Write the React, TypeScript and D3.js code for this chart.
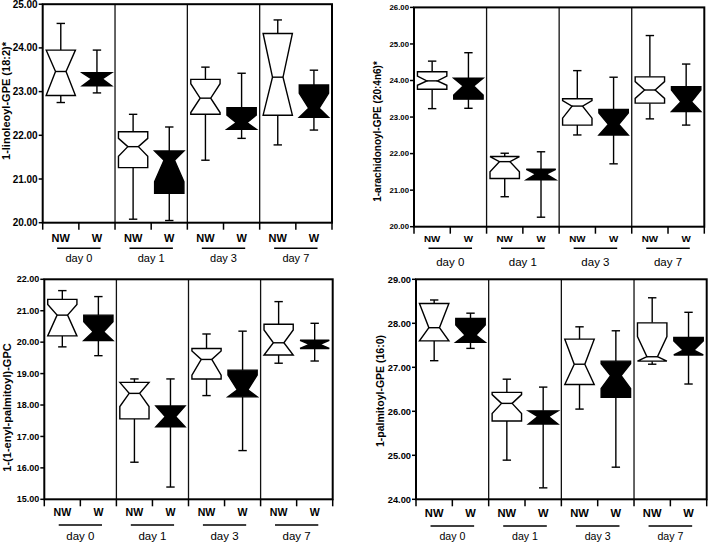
import React from "react";
import * as d3 from "d3";

const days = ["day 0", "day 1", "day 3", "day 7"];
const groupLabels = ["NW", "W"];

// each row: [whiskerLow, q1, median, q3, whiskerHigh, notchLow, notchHigh]
// order: day0 NW, day0 W, day1 NW, day1 W, day3 NW, day3 W, day7 NW, day7 W
const p1Title = "1-linoleoyl-GPE (18:2)*";
const p1Ticks = [20, 21, 22, 23, 24, 25];
const p1Boxes = [
  [22.75, 22.91, 23.46, 23.95, 24.56, 22.8, 24.1],
  [22.97, 23.13, 23.29, 23.43, 23.95, 23.0, 23.5],
  [20.08, 21.26, 21.74, 22.08, 22.48, 21.52, 21.93],
  [20.05, 20.67, 21.43, 21.64, 22.19, 20.94, 21.92],
  [21.43, 22.48, 22.85, 23.28, 23.56, 22.52, 23.18],
  [21.93, 22.14, 22.29, 22.63, 23.42, 22.1, 22.46],
  [21.78, 22.46, 23.33, 24.33, 24.64, 22.3, 24.4],
  [22.12, 22.41, 22.62, 23.15, 23.49, 22.28, 22.96],
];

const p2Title = "1-arachidonoyl-GPE (20:4n6)*";
const p2Ticks = [20, 21, 22, 23, 24, 25, 26];
const p2Boxes = [
  [23.23, 23.76, 23.99, 24.24, 24.53, 23.87, 24.12],
  [23.24, 23.49, 23.85, 24.06, 24.76, 23.6, 24.1],
  [20.82, 21.32, 21.78, 21.92, 22.01, 21.5, 22.06],
  [20.26, 21.28, 21.44, 21.57, 22.05, 21.2, 21.7],
  [22.51, 22.78, 23.3, 23.5, 24.27, 22.97, 23.45],
  [21.72, 22.51, 22.8, 23.21, 24.09, 22.47, 23.11],
  [22.95, 23.38, 23.74, 24.1, 25.23, 23.51, 23.97],
  [22.78, 23.15, 23.42, 23.83, 24.45, 23.1, 23.74],
];

const p3Title = "1-(1-enyl-palmitoyl)-GPC";
const p3Ticks = [15, 16, 17, 18, 19, 20, 21, 22];
const p3Boxes = [
  [19.85, 20.2, 20.86, 21.36, 21.64, 20.1, 21.2],
  [19.57, 20.05, 20.33, 20.86, 21.45, 20.0, 20.65],
  [16.18, 17.56, 18.37, 18.72, 18.83, 17.95, 18.8],
  [15.39, 17.31, 17.63, 17.97, 18.83, 17.3, 18.0],
  [18.3, 18.83, 19.45, 19.8, 20.26, 18.95, 19.72],
  [16.55, 18.26, 18.48, 19.11, 20.35, 18.0, 18.95],
  [19.33, 19.59, 19.98, 20.57, 21.29, 19.5, 20.39],
  [19.4, 19.8, 19.93, 20.06, 20.6, 19.7, 20.1],
];

const p4Title = "1-palmitoyl-GPE (16:0)";
const p4Ticks = [24, 25, 26, 27, 28, 29];
const p4Boxes = [
  [27.15, 27.6, 27.9, 28.45, 28.53, 27.5, 28.5],
  [27.43, 27.57, 27.73, 28.11, 28.23, 27.5, 27.96],
  [24.89, 25.78, 26.18, 26.43, 26.73, 25.95, 26.38],
  [24.26, 25.71, 25.88, 26.01, 26.55, 25.6, 26.1],
  [26.05, 26.61, 27.07, 27.64, 27.92, 26.5, 27.7],
  [24.73, 26.32, 26.81, 27.14, 27.83, 26.52, 27.08],
  [27.07, 27.14, 27.24, 28.01, 28.58, 26.9, 27.7],
  [26.62, 27.28, 27.39, 27.68, 28.25, 27.2, 27.6],
];

const FONT = "'Liberation Sans', Arial, Helvetica, sans-serif";

type Layout = {
  left: number; right: number; top: number; bottom: number;
  tickFont: number; titleFont: number; titleX: number; titleY: number;
  groupFont: number; groupY: number; lineY: number; dayFont: number; dayY: number;
};

const layouts: Layout[] = [
  { left: 42.7, right: 332, top: 4.2, bottom: 222.7, tickFont: 10, titleFont: 11, titleX: 6.5, titleY: 101,
    groupFont: 11, groupY: 238, lineY: 248.3, dayFont: 11, dayY: 258.5 },
  { left: 414, right: 704.3, top: 7.4, bottom: 226.7, tickFont: 7.8, titleFont: 10, titleX: 377, titleY: 131.5,
    groupFont: 9.8, groupY: 238.3, lineY: 248.3, dayFont: 11.5, dayY: 262 },
  { left: 44.3, right: 332.7, top: 279.3, bottom: 499.3, tickFont: 9, titleFont: 11, titleX: 7, titleY: 407.5,
    groupFont: 10.6, groupY: 512.7, lineY: 525, dayFont: 11.5, dayY: 536.3 },
  { left: 416, right: 706.7, top: 279.3, bottom: 499.3, tickFont: 9.3, titleFont: 10.5, titleX: 380, titleY: 391,
    groupFont: 11.2, groupY: 513, lineY: 526, dayFont: 10.6, dayY: 536.7 },
];

function boxPath(cx: number, w: number, y: d3.ScaleLinear<number, number>, s: number[]) {
  const [, q1, med, q3, , nLoRaw, nHiRaw] = s;
  const nLo = Math.max(nLoRaw, q1);
  const nHi = Math.min(nHiRaw, q3);
  const inset = w * 0.32;
  const l = cx - w / 2, r = cx + w / 2;
  const p = d3.path();
  p.moveTo(l, y(q3));
  if (nHi < q3) p.lineTo(l, y(nHi));
  p.lineTo(l + inset, y(med));
  if (nLo > q1) p.lineTo(l, y(nLo));
  p.lineTo(l, y(q1));
  p.lineTo(r, y(q1));
  if (nLo > q1) p.lineTo(r, y(nLo));
  p.lineTo(r - inset, y(med));
  if (nHi < q3) p.lineTo(r, y(nHi));
  p.lineTo(r, y(q3));
  p.closePath();
  return p.toString();
}

function Panel({ L, title, ticks, boxes }: { L: Layout; title: string; ticks: number[]; boxes: number[][] }) {
  const y = d3.scaleLinear().domain([ticks[0], ticks[ticks.length - 1]]).range([L.bottom, L.top]);
  const xg = d3.scaleBand<string>().domain(days).range([L.left, L.right]).padding(0);
  const gw = xg.bandwidth();
  const xs = d3.scaleBand<string>().domain(groupLabels).range([0, gw]).padding(0);
  const sub = xs.bandwidth();
  const bw = sub * 0.81;
  const capW = 8.4;
  const fmt = d3.format(".2f");
  const bottomTicks = d3.range(0, days.length * 2 + 1).map((i) => L.left + (i * gw) / 2);

  return (
    <g>
      {/* dividers */}
      {days.slice(1).map((d) => (
        <line key={d} x1={xg(d)} x2={xg(d)} y1={L.top} y2={L.bottom} stroke="#111" strokeWidth={1.3} />
      ))}
      {/* boxes */}
      {boxes.map((s, i) => {
        const day = days[Math.floor(i / 2)];
        const grp = groupLabels[i % 2];
        const cx = (xg(day) as number) + (xs(grp) as number) + sub / 2;
        const [lo, q1, med, q3, hi] = s;
        const filled = grp === "W";
        const inset = bw * 0.32;
        return (
          <g key={i}>
            <line x1={cx} x2={cx} y1={y(hi)} y2={y(q3)} stroke="#000" strokeWidth={1.4} />
            <line x1={cx} x2={cx} y1={y(q1)} y2={y(lo)} stroke="#000" strokeWidth={1.4} />
            <line x1={cx - capW / 2} x2={cx + capW / 2} y1={y(hi)} y2={y(hi)} stroke="#000" strokeWidth={1.4} />
            <line x1={cx - capW / 2} x2={cx + capW / 2} y1={y(lo)} y2={y(lo)} stroke="#000" strokeWidth={1.4} />
            <path d={boxPath(cx, bw, y, s)} fill={filled ? "#000" : "#fff"} stroke="#000" strokeWidth={1.4} strokeLinejoin="miter" />
            <line x1={cx - bw / 2 + inset} x2={cx + bw / 2 - inset} y1={y(med)} y2={y(med)} stroke={filled ? "#000" : "#000"} strokeWidth={1.4} />
          </g>
        );
      })}
      {/* frame */}
      <rect x={L.left} y={L.top} width={L.right - L.left} height={L.bottom - L.top} fill="none" stroke="#000" strokeWidth={2} />
      {/* y ticks */}
      {ticks.map((t) => (
        <g key={t}>
          <line x1={L.left - 4} x2={L.left} y1={y(t)} y2={y(t)} stroke="#000" strokeWidth={1.5} />
          <text x={L.left - 5} y={y(t)} dy="0.35em" textAnchor="end" fontFamily={FONT} fontWeight="bold" fontSize={L.tickFont} fill="#000">
            {fmt(t)}
          </text>
        </g>
      ))}
      {/* x ticks */}
      {bottomTicks.map((x, i) => (
        <line key={i} x1={x} x2={x} y1={L.bottom} y2={L.bottom + 7} stroke="#000" strokeWidth={1.5} />
      ))}
      {/* group labels */}
      {days.map((d) => (
        <g key={d}>
          {groupLabels.map((g) => (
            <text key={g} x={(xg(d) as number) + (xs(g) as number) + sub / 2} y={L.groupY} dy="0.35em" textAnchor="middle"
              fontFamily={FONT} fontWeight="bold" fontSize={L.groupFont} fill="#000">{g}</text>
          ))}
          <line x1={(xg(d) as number) + gw * 0.2} x2={(xg(d) as number) + gw * 0.8} y1={L.lineY} y2={L.lineY} stroke="#000" strokeWidth={1.5} />
          <text x={(xg(d) as number) + gw / 2} y={L.dayY} dy="0.35em" textAnchor="middle" fontFamily={FONT} fontSize={L.dayFont} fill="#000">{d}</text>
        </g>
      ))}
      {/* y title */}
      <text transform={`translate(${L.titleX},${L.titleY}) rotate(-90)`} dy="0.35em" textAnchor="middle"
        fontFamily={FONT} fontWeight="bold" fontSize={L.titleFont} fill="#000">{title}</text>
    </g>
  );
}

export default function App() {
  return (
    <svg width={709} height={542} style={{ position: "absolute", left: 0, top: 0, background: "#fff" }}>
      <rect width={709} height={542} fill="#fff" />
      <Panel L={layouts[0]} title={p1Title} ticks={p1Ticks} boxes={p1Boxes} />
      <Panel L={layouts[1]} title={p2Title} ticks={p2Ticks} boxes={p2Boxes} />
      <Panel L={layouts[2]} title={p3Title} ticks={p3Ticks} boxes={p3Boxes} />
      <Panel L={layouts[3]} title={p4Title} ticks={p4Ticks} boxes={p4Boxes} />
    </svg>
  );
}
